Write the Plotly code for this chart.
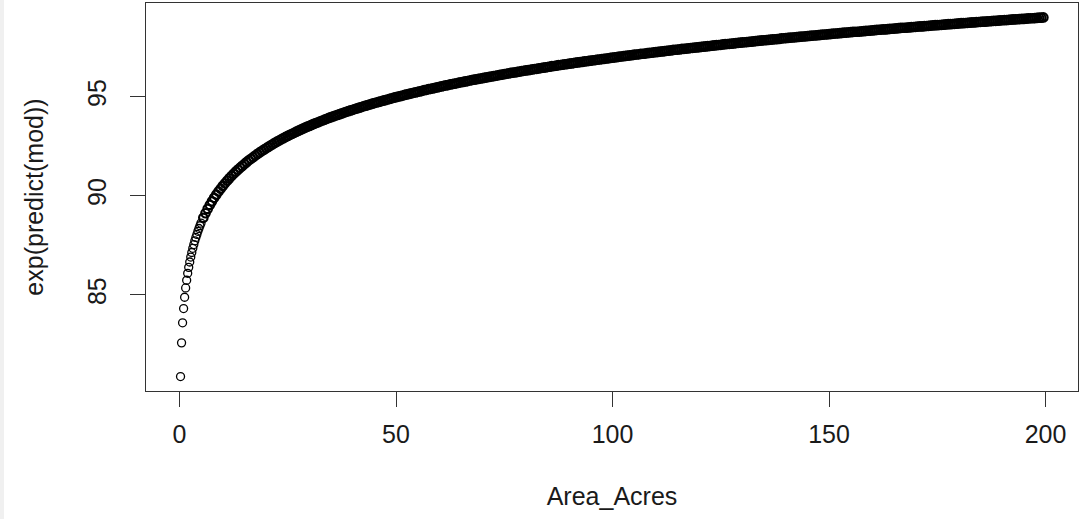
import plotly.graph_objects as go

# Sparse start of the curve (individual circles visible)
area_sparse = [0.236, 0.472, 0.708, 0.944, 1.18, 1.416, 1.652, 1.888, 2.124, 2.36,
               2.596, 2.832, 3.068, 3.304, 3.54, 3.776, 4.012, 4.248, 4.484, 4.72, 4.956]
pred_sparse = [80.88, 82.58, 83.59, 84.31, 84.88, 85.35, 85.74, 86.09, 86.39, 86.66,
               86.91, 87.14, 87.35, 87.54, 87.73, 87.90, 88.05, 88.21, 88.35, 88.49, 88.62]

# Dense part of the curve
area_dense = [
    5.5, 6, 6.5, 7, 7.5, 8, 8.5, 9, 9.5, 10,
    10.5, 11, 11.5, 12, 12.5, 13, 13.5, 14, 14.5, 15, 15.5, 16, 16.5, 17, 17.5, 18, 18.5, 19, 19.5, 20,
    20.5, 21, 21.5, 22, 22.5, 23, 23.5, 24, 24.5, 25, 25.5, 26, 26.5, 27, 27.5, 28, 28.5, 29, 29.5, 30,
    30.5, 31, 31.5, 32, 32.5, 33, 33.5, 34, 34.5, 35, 35.5, 36, 36.5, 37, 37.5, 38, 38.5, 39, 39.5, 40,
    40.5, 41, 41.5, 42, 42.5, 43, 43.5, 44, 44.5, 45, 45.5, 46, 46.5, 47, 47.5, 48, 48.5, 49, 49.5, 50,
    50.5, 51, 51.5, 52, 52.5, 53, 53.5, 54, 54.5, 55, 55.5, 56, 56.5, 57, 57.5, 58, 58.5, 59, 59.5, 60,
    60.5, 61, 61.5, 62, 62.5, 63, 63.5, 64, 64.5, 65, 65.5, 66, 66.5, 67, 67.5, 68, 68.5, 69, 69.5, 70,
    70.5, 71, 71.5, 72, 72.5, 73, 73.5, 74, 74.5, 75, 75.5, 76, 76.5, 77, 77.5, 78, 78.5, 79, 79.5, 80,
    80.5, 81, 81.5, 82, 82.5, 83, 83.5, 84, 84.5, 85, 85.5, 86, 86.5, 87, 87.5, 88, 88.5, 89, 89.5, 90,
    90.5, 91, 91.5, 92, 92.5, 93, 93.5, 94, 94.5, 95, 95.5, 96, 96.5, 97, 97.5, 98, 98.5, 99, 99.5, 100,
    100.5, 101, 101.5, 102, 102.5, 103, 103.5, 104, 104.5, 105, 105.5, 106, 106.5, 107, 107.5, 108, 108.5, 109, 109.5, 110,
    110.5, 111, 111.5, 112, 112.5, 113, 113.5, 114, 114.5, 115, 115.5, 116, 116.5, 117, 117.5, 118, 118.5, 119, 119.5, 120,
    120.5, 121, 121.5, 122, 122.5, 123, 123.5, 124, 124.5, 125, 125.5, 126, 126.5, 127, 127.5, 128, 128.5, 129, 129.5, 130,
    130.5, 131, 131.5, 132, 132.5, 133, 133.5, 134, 134.5, 135, 135.5, 136, 136.5, 137, 137.5, 138, 138.5, 139, 139.5, 140,
    140.5, 141, 141.5, 142, 142.5, 143, 143.5, 144, 144.5, 145, 145.5, 146, 146.5, 147, 147.5, 148, 148.5, 149, 149.5, 150,
    150.5, 151, 151.5, 152, 152.5, 153, 153.5, 154, 154.5, 155, 155.5, 156, 156.5, 157, 157.5, 158, 158.5, 159, 159.5, 160,
    160.5, 161, 161.5, 162, 162.5, 163, 163.5, 164, 164.5, 165, 165.5, 166, 166.5, 167, 167.5, 168, 168.5, 169, 169.5, 170,
    170.5, 171, 171.5, 172, 172.5, 173, 173.5, 174, 174.5, 175, 175.5, 176, 176.5, 177, 177.5, 178, 178.5, 179, 179.5, 180,
    180.5, 181, 181.5, 182, 182.5, 183, 183.5, 184, 184.5, 185, 185.5, 186, 186.5, 187, 187.5, 188, 188.5, 189, 189.5, 190,
    190.5, 191, 191.5, 192, 192.5, 193, 193.5, 194, 194.5, 195, 195.5, 196, 196.5, 197, 197.5, 198, 198.5, 199, 199.5,
]
pred_dense = [
    88.89, 89.12, 89.34, 89.54, 89.72, 89.90, 90.06, 90.22, 90.36, 90.50,
    90.63, 90.76, 90.88, 91.00, 91.11, 91.22, 91.32, 91.42, 91.51, 91.61, 91.70, 91.79, 91.87, 91.95, 92.03, 92.11, 92.19, 92.26, 92.33, 92.40,
    92.47, 92.54, 92.60, 92.67, 92.73, 92.79, 92.85, 92.91, 92.97, 93.02, 93.08, 93.13, 93.18, 93.24, 93.29, 93.34, 93.39, 93.44, 93.49, 93.53,
    93.58, 93.63, 93.67, 93.71, 93.76, 93.80, 93.84, 93.89, 93.93, 93.97, 94.01, 94.05, 94.08, 94.12, 94.16, 94.20, 94.24, 94.27, 94.31, 94.34,
    94.38, 94.41, 94.45, 94.48, 94.52, 94.55, 94.58, 94.61, 94.65, 94.68, 94.71, 94.74, 94.77, 94.80, 94.83, 94.86, 94.89, 94.92, 94.95, 94.98,
    95.01, 95.03, 95.06, 95.09, 95.12, 95.14, 95.17, 95.20, 95.22, 95.25, 95.27, 95.30, 95.33, 95.35, 95.38, 95.40, 95.42, 95.45, 95.47, 95.50,
    95.52, 95.55, 95.57, 95.59, 95.62, 95.64, 95.66, 95.68, 95.71, 95.73, 95.75, 95.77, 95.79, 95.82, 95.84, 95.86, 95.88, 95.90, 95.92, 95.94,
    95.96, 95.98, 96.00, 96.02, 96.04, 96.06, 96.08, 96.10, 96.12, 96.14, 96.16, 96.18, 96.20, 96.22, 96.23, 96.25, 96.27, 96.29, 96.31, 96.33,
    96.34, 96.36, 96.38, 96.40, 96.41, 96.43, 96.45, 96.47, 96.48, 96.50, 96.52, 96.54, 96.55, 96.57, 96.59, 96.60, 96.62, 96.64, 96.65, 96.67,
    96.68, 96.70, 96.72, 96.73, 96.75, 96.76, 96.78, 96.79, 96.81, 96.82, 96.84, 96.85, 96.87, 96.88, 96.90, 96.91, 96.93, 96.94, 96.96, 96.97,
    96.99, 97.00, 97.02, 97.03, 97.05, 97.06, 97.07, 97.09, 97.10, 97.12, 97.13, 97.14, 97.16, 97.17, 97.18, 97.20, 97.21, 97.22, 97.24, 97.25,
    97.26, 97.28, 97.29, 97.30, 97.32, 97.33, 97.34, 97.36, 97.37, 97.38, 97.39, 97.41, 97.42, 97.43, 97.44, 97.46, 97.47, 97.48, 97.49, 97.50,
    97.52, 97.53, 97.54, 97.55, 97.56, 97.58, 97.59, 97.60, 97.61, 97.62, 97.64, 97.65, 97.66, 97.67, 97.68, 97.69, 97.71, 97.72, 97.73, 97.74,
    97.75, 97.76, 97.77, 97.78, 97.79, 97.81, 97.82, 97.83, 97.84, 97.85, 97.86, 97.87, 97.88, 97.89, 97.90, 97.91, 97.92, 97.94, 97.95, 97.96,
    97.97, 97.98, 97.99, 98.00, 98.01, 98.02, 98.03, 98.04, 98.05, 98.06, 98.07, 98.08, 98.09, 98.10, 98.11, 98.12, 98.13, 98.14, 98.15, 98.16,
    98.17, 98.18, 98.19, 98.20, 98.21, 98.22, 98.23, 98.24, 98.25, 98.26, 98.27, 98.28, 98.28, 98.29, 98.30, 98.31, 98.32, 98.33, 98.34, 98.35,
    98.36, 98.37, 98.38, 98.39, 98.40, 98.40, 98.41, 98.42, 98.43, 98.44, 98.45, 98.46, 98.47, 98.48, 98.48, 98.49, 98.50, 98.51, 98.52, 98.53,
    98.54, 98.55, 98.55, 98.56, 98.57, 98.58, 98.59, 98.60, 98.61, 98.61, 98.62, 98.63, 98.64, 98.65, 98.66, 98.66, 98.67, 98.68, 98.69, 98.70,
    98.71, 98.71, 98.72, 98.73, 98.74, 98.75, 98.75, 98.76, 98.77, 98.78, 98.79, 98.79, 98.80, 98.81, 98.82, 98.83, 98.83, 98.84, 98.85, 98.86,
    98.87, 98.87, 98.88, 98.89, 98.90, 98.90, 98.91, 98.92, 98.93, 98.93, 98.94, 98.95, 98.96, 98.96, 98.97, 98.98, 98.99, 98.99, 99.00,
]

x_ticks = [0, 50, 100, 150, 200]
y_ticks = [85, 90, 95]

FONT = "Liberation Sans, Arial, sans-serif"

fig = go.Figure()
fig.add_trace(go.Scatter(
    x=area_sparse, y=pred_sparse, mode="markers",
    marker=dict(symbol="circle-open", size=8, color="black",
                line=dict(width=1.3, color="black")),
    showlegend=False, hoverinfo="skip",
))
fig.add_trace(go.Scatter(
    x=area_dense, y=pred_dense, mode="markers",
    marker=dict(symbol="circle-open", size=8.5, color="black",
                line=dict(width=2.2, color="black")),
    showlegend=False, hoverinfo="skip",
))

W, H = 1079, 519
ml, mr, mt, mb = 146, 1, 3, 128
pw = W - ml - mr

fig.update_layout(
    width=W,
    height=H,
    margin=dict(l=ml, r=mr, t=mt, b=mb, pad=0),
    paper_bgcolor="white",
    plot_bgcolor="white",
    font=dict(family=FONT, size=25, color="#1a1a1a"),
    xaxis=dict(
        range=[-7.74, 207.5],
        tickvals=x_ticks,
        ticktext=[str(v) for v in x_ticks],
        ticks="outside",
        ticklen=15,
        tickwidth=1,
        tickcolor="#333333",
        showline=True,
        mirror=True,
        linecolor="#333333",
        linewidth=1,
        showgrid=False,
        zeroline=False,
        tickfont=dict(family=FONT, size=25, color="#1a1a1a"),
        ticklabelstandoff=6,
        title=dict(text="Area_Acres", font=dict(family=FONT, size=25, color="#1a1a1a"),
                   standoff=40),
        automargin=False,
    ),
    yaxis=dict(
        range=[80.15, 99.73],
        tickvals=y_ticks,
        ticktext=[str(v) for v in y_ticks],
        ticks="outside",
        ticklen=15,
        tickwidth=1,
        tickcolor="#333333",
        tickangle=-90,
        showline=True,
        mirror=True,
        linecolor="#333333",
        linewidth=1,
        showgrid=False,
        zeroline=False,
        tickfont=dict(family=FONT, size=25, color="#1a1a1a"),
        ticklabelstandoff=14,
        title=dict(text="exp(predict(mod))", font=dict(family=FONT, size=25, color="#1a1a1a"),
                   standoff=32),
        automargin=False,
    ),
    shapes=[
        dict(type="rect", xref="paper", yref="paper",
             x0=-ml / pw, x1=(4 - ml) / pw, y0=-mb / (H - mt - mb), y1=1 + mt / (H - mt - mb),
             fillcolor="#f0f0f0", line=dict(width=0), layer="below"),
    ],
)

fig.write_html("out.html")
